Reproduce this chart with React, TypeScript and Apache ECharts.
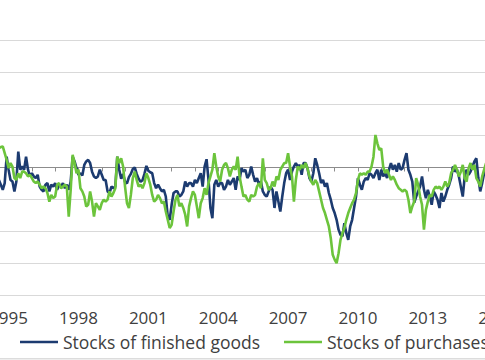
import React, { useEffect, useRef } from "react";
import * as echarts from "echarts";

// Monthly balances, first observation August 1994
const START_YEAR = 1994;
const START_MONTH = 8;

const seriesNames = ["Stocks of finished goods", "Stocks of purchases"];

const finishedGoods = [
  -3.9, -5.4, -7.0, -4.9, 3.4, -0.7, -3.9, -4.4, -7.5, -4.4,
  5.0, -0.7, 0.3, -0.7, 3.4, -0.7, -2.8, -1.8, -2.8, -3.3,
  -2.3, -6.0, -7.0, -7.5, -5.4, -4.9, -7.5, -5.4, -6.0, -4.9,
  -7.0, -5.4, -6.0, -4.9, -6.5, -5.4, -7.0, -4.4, 3.4, 1.9,
  -0.2, -2.3, -1.8, -2.5, 0.8, 1.9, 2.4, 1.4, -1.3, -2.8,
  -3.3, -2.8, -0.7, -2.3, -3.9, -3.9, -7.5, -8.0, -6.0, -6.5,
  -6.0, 3.4, -0.7, -3.5, -2.0, -4.5, -5.0, -3.0, -2.0, -0.5,
  0.0, -2.0, -3.5, -4.5, -4.0, -2.0, 0.5, -1.0, -1.5, -1.8,
  -4.9, -6.5, -5.4, -6.5, -7.5, -7.0, -9.1, -15.4, -16.4, -11.7,
  -8.0, -7.5, -7.5, -9.1, -8.6, -7.5, -4.4, -6.0, -4.9, -4.9,
  -6.0, -3.9, -4.9, -3.3, -1.8, -6.0, 0.3, 2.6, -3.9, -12.7,
  -15.9, -5.4, -3.9, -6.0, -4.9, -4.9, -7.0, -6.0, -3.9, -5.4,
  -4.4, -3.3, -7.0, -2.8, -3.9, -0.2, -1.3, -0.7, -3.3, -2.3,
  0.3, -2.3, -4.4, -3.3, -5.4, -4.4, -7.5, -8.6, -9.1, -7.5,
  -6.0, -7.0, -12.7, -7.5, -10.7, -13.8, -9.1, -4.9, -1.8, -0.7,
  -3.9, -1.3, 0.3, 1.4, 0.3, 0.8, -2.3, 1.4, 1.4, -0.2,
  -3.3, -4.4, -1.8, 2.9, 0.8, -1.8, -4.9, -3.9, -6.0, -4.9,
  -8.0, -10.1, -12.7, -14.3, -16.4, -19.5, -21.1, -21.6, -17.5, -20.6,
  -22.7, -18.5, -16.4, -12.7, -9.1, -3.3, -5.4, -7.0, -4.4, -3.3,
  -3.9, -1.8, -2.3, -3.3, -1.8, -0.7, -3.9, -0.7, -2.8, -1.8,
  -3.3, -0.7, 1.4, -0.7, 0.8, -1.3, 1.4, -0.7, -0.2, 2.4,
  4.5, -0.7, -2.3, -4.4, -11.0, -9.1, -7.5, -6.0, -2.8, -7.0,
  -9.6, -7.0, -9.1, -11.7, -7.5, -8.6, -10.1, -12.7, -8.0, -10.7,
  -9.1, -7.0, -5.4, -3.3, 0.3, -1.3, -0.7, -2.8, -6.0, -9.1,
  -2.8, -0.7, -2.3, -1.3, 0.3, 1.9, 2.9, -3.3, -7.5, -4.9,
  -1.8, -0.2,
];

const purchases = [
  6.1, 6.4, 6.6, 4.5, 2.4, -0.2, 1.4, 0.3, -3.3, -3.9,
  -1.8, -3.3, -1.3, -1.3, -1.8, -2.8, -2.3, -3.3, -4.4, -4.9,
  -4.4, -5.4, -6.5, -6.0, -6.5, -8.0, -10.7, -8.6, -9.6, -9.1,
  -5.4, -4.9, -6.5, -6.0, -5.4, -6.0, -15.4, -7.0, 4.0, 1.4,
  -1.8, -0.7, -6.5, -7.5, -9.1, -12.2, -11.7, -7.5, -10.7, -15.4,
  -11.2, -12.2, -13.3, -11.2, -10.1, -10.7, -10.1, -7.5, -9.1, -8.0,
  -6.5, 3.4, 1.4, 2.9, 0.3, -6.0, -11.2, -12.7, -8.6, -3.3,
  -1.3, -3.9, -6.0, -5.4, -6.5, -4.9, -1.8, -3.3, -5.4, -8.6,
  -10.7, -10.1, -8.6, -9.6, -11.2, -10.7, -13.8, -16.4, -19.0, -18.0,
  -13.8, -10.1, -8.6, -12.2, -11.2, -12.7, -14.8, -18.5, -12.2, -9.6,
  -7.5, -8.6, -12.2, -15.9, -11.2, -9.6, -6.5, -8.6, -4.9, -2.8,
  -0.7, 4.5, 0.3, -2.8, -4.4, -0.7, 0.8, 1.4, -0.2, -2.8,
  -0.7, 0.3, -0.7, 3.4, -2.8, -6.0, -9.1, -8.6, -10.1, -10.7,
  -8.6, -9.1, -8.6, -6.0, -4.9, -6.5, 2.9, -3.9, -4.9, -7.0,
  -6.5, -4.4, -6.0, -2.8, -3.9, -0.7, 0.3, 1.4, 1.4, 4.5,
  0.3, -2.8, -10.7, -3.9, 0.3, -0.7, 0.8, -0.2, 1.4, -0.2,
  -2.8, -4.4, -5.4, -3.9, -4.9, -7.5, -10.1, -12.7, -14.3, -16.4,
  -18.5, -22.2, -27.4, -28.9, -30.0, -26.9, -22.7, -20.6, -19.0, -16.4,
  -14.3, -12.7, -11.2, -10.1, -8.0, -3.9, -1.8, -2.3, -1.8, -2.3,
  -1.3, -1.3, 0.3, 3.4, 10.2, 7.6, 5.5, 6.0, 0.3, -1.8,
  -0.7, -2.3, -3.9, -2.8, -3.9, -5.4, -6.5, -7.0, -7.5, -7.0,
  -7.5, -10.1, -14.3, -12.2, -10.7, -3.3, -5.4, -9.1, -11.7, -19.5,
  -13.3, -10.7, -8.6, -9.1, -7.0, -6.0, -6.5, -6.0, -7.0, -6.0,
  -4.4, -6.0, -4.9, -1.8, -0.7, 0.8, -0.7, -2.8, -1.3, 0.8,
  -3.3, -4.4, -0.2, 1.4, -0.7, 0.8, -3.3, -4.4, -6.0, -2.8,
  -0.7, 1.4,
];

const labelYears = [1995, 1998, 2001, 2004, 2007, 2010, 2013, 2016];
const yTicks = [-40, -30, -20, -10, 0, 10, 20, 30, 40];

const NAVY = "#1c3b70";
const GREEN = "#6cc43c";
const TEXT = "#404040";
const FONT = "'Open Sans', 'Noto Sans', sans-serif";

function toPoints(values: number[]) {
  return values.map((v, i) => [START_YEAR + (START_MONTH - 1 + i) / 12, v]);
}

export default function App() {
  const ref = useRef<HTMLDivElement>(null);

  useEffect(() => {
    document.body.style.margin = "0";
    if (!ref.current) return;
    const chart = echarts.init(ref.current, null, { renderer: "svg" });
    const xMin = 1993;
    const xMax = 2017;
    chart.setOption({
      animation: false,
      backgroundColor: "#ffffff",
      textStyle: { fontFamily: FONT },
      grid: {
        left: -38,
        right: -36,
        top: 40,
        bottom: 65,
        containLabel: false,
        outerBoundsMode: "none",
      },
      legend: {
        data: seriesNames,
        left: 15,
        top: 328,
        width: 900,
        orient: "horizontal",
        icon: "rect",
        itemWidth: 38,
        itemHeight: 2.5,
        itemGap: 24,
        textStyle: { fontSize: 17.5, color: TEXT, fontFamily: FONT },
      },
      xAxis: [
        {
          type: "value",
          min: xMin,
          max: xMax,
          interval: 1,
          position: "bottom",
          axisLine: { show: false, onZero: false },
          axisTick: { show: false },
          splitLine: { show: false },
          axisLabel: {
            margin: 14,
            fontSize: 17,
            color: TEXT,
            fontFamily: FONT,
            formatter: (v: number) =>
              labelYears.includes(Math.round(v)) ? String(Math.round(v)) : "",
          },
        },
        {
          type: "value",
          min: xMin,
          max: xMax,
          interval: 1,
          position: "bottom",
          axisLine: { show: true, onZero: true, lineStyle: { color: "#8c8c8c", width: 1 } },
          axisTick: { show: true, length: 4, lineStyle: { color: "#8c8c8c", width: 1 } },
          axisLabel: { show: false },
          splitLine: { show: false },
        },
      ],
      yAxis: {
        type: "value",
        min: yTicks[0],
        max: yTicks[yTicks.length - 1],
        interval: 10,
        axisLine: { show: false },
        axisTick: { show: false },
        axisLabel: { show: false },
        splitLine: { show: true, lineStyle: { color: "#d9d9d9", width: 1 } },
      },
      graphic: [
        {
          type: "rect",
          shape: { x: 0, y: 358, width: 485, height: 1.5 },
          style: { fill: "#dcdcdc" },
          silent: true,
        },
      ],
      series: [
        {
          name: seriesNames[0],
          type: "line",
          xAxisIndex: 0,
          data: toPoints(finishedGoods),
          showSymbol: false,
          symbol: "none",
          color: NAVY,
          lineStyle: { color: NAVY, width: 2.6 },
        },
        {
          name: seriesNames[1],
          type: "line",
          xAxisIndex: 0,
          data: toPoints(purchases),
          showSymbol: false,
          symbol: "none",
          color: GREEN,
          lineStyle: { color: GREEN, width: 2.6 },
        },
      ],
    });
    return () => chart.dispose();
  }, []);

  return (
    <div
      ref={ref}
      style={{ position: "absolute", left: 0, top: 0, width: 485, height: 360 }}
    />
  );
}
